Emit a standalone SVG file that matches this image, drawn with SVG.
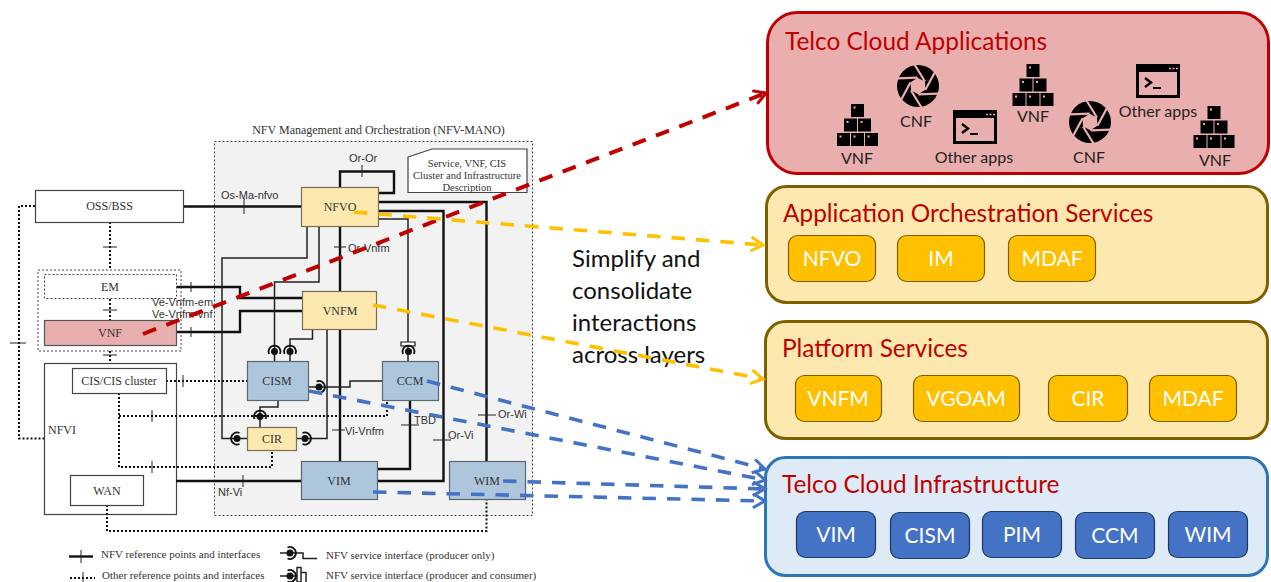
<svg xmlns="http://www.w3.org/2000/svg" width="1271" height="582" viewBox="0 0 1271 582">
<style>
.s{font-family:"Liberation Serif",serif;fill:#333;text-anchor:middle;font-size:12px}
.a{font-family:"Liberation Sans",sans-serif;font-size:11px;fill:#333}
.lg{font-family:"Liberation Serif",serif;fill:#333;font-size:11px}
.l{font-family:Lato,"Liberation Sans",sans-serif}
.yb{fill:#fde9b0;stroke:#7a7050;stroke-width:1.2}
.bb{fill:#aec6dc;stroke:#5a6670;stroke-width:1.2}
.wb{fill:#fff;stroke:#444;stroke-width:1.2}
.th{fill:none;stroke:#111;stroke-width:2.4}
.tn{fill:none;stroke:#222;stroke-width:1.5}
.do{fill:none;stroke:#111;stroke-width:2;stroke-dasharray:2 2}
.ti{fill:none;stroke:#222;stroke-width:1}
.pan{stroke-width:3}
.t1{font-size:24.4px;fill:#c00000}
.ib{stroke-width:1.2}
.it{font-size:21px;text-anchor:middle}
.sm{font-size:16px;fill:#222;text-anchor:middle}
.rd{fill:none;stroke:#c00000;stroke-width:4;stroke-dasharray:14 11}
.ye{fill:none;stroke:#ffc000;stroke-width:3.6;stroke-dasharray:13.500 11}
.bl{fill:none;stroke:#4472c4;stroke-width:3.6;stroke-dasharray:13.500 11}
</style>
<defs>
<marker id="mr" markerUnits="userSpaceOnUse" markerWidth="18" markerHeight="18" refX="14" refY="8" orient="auto"><path d="M2,1 L14,8 L2,15" fill="none" stroke="#c00000" stroke-width="3"/></marker>
<marker id="my" markerUnits="userSpaceOnUse" markerWidth="18" markerHeight="18" refX="14" refY="8" orient="auto"><path d="M2,1 L14,8 L2,15" fill="none" stroke="#ffc000" stroke-width="3"/></marker>
<marker id="mb" markerUnits="userSpaceOnUse" markerWidth="18" markerHeight="18" refX="14" refY="8" orient="auto"><path d="M2,1 L14,8 L2,15" fill="none" stroke="#4472c4" stroke-width="3"/></marker>
<g id="sock"><circle r="3.500" fill="#111"/><path d="M-5.500,2.500 A6,6 0 1 1 5.500,2.500" fill="none" stroke="#111" stroke-width="1.800"/></g>
<g id="vnfi"><g fill="#000">
<rect x="-6.500" y="0" width="13" height="13"/><rect x="-13.500" y="14.500" width="13" height="13"/><rect x="0.500" y="14.500" width="13" height="13"/><rect x="-20.500" y="29" width="13" height="13"/><rect x="-6.500" y="29" width="13" height="13"/><rect x="7.500" y="29" width="13" height="13"/></g>
<g fill="#e9aeae"><rect x="-4" y="2.500" width="2" height="2"/><rect x="-11" y="17" width="2" height="2"/><rect x="3" y="17" width="2" height="2"/><rect x="-18" y="31.500" width="2" height="2"/><rect x="-4" y="31.500" width="2" height="2"/><rect x="10" y="31.500" width="2" height="2"/></g></g>
<g id="ape"><circle r="21" fill="#000"/><g stroke="#e9aeae" stroke-width="2.200"><path id="gap" d="M7,-4.500L-3.500,-21.500"/><path d="M7,-4.500L-3.500,-21.500" transform="rotate(60)"/><path d="M7,-4.500L-3.500,-21.500" transform="rotate(120)"/><path d="M7,-4.500L-3.500,-21.500" transform="rotate(180)"/><path d="M7,-4.500L-3.500,-21.500" transform="rotate(240)"/><path d="M7,-4.500L-3.500,-21.500" transform="rotate(300)"/></g><path d="M7,-4.500L7.400,3.800L0.400,8.300L-7,4.500L-7.400,-3.800L-0.400,-8.300Z" fill="#e9aeae"/></g>
<g id="term"><rect x="1.500" y="1.500" width="41" height="31" fill="none" stroke="#000" stroke-width="3"/><rect x="1" y="1" width="42" height="7" fill="#000"/><path d="M9,14 L15,18.500 L9,23" fill="none" stroke="#000" stroke-width="2.400"/><path d="M17,24 H25" stroke="#000" stroke-width="2"/><path d="M33,4.500 h2 m1.500,0 h2 m1.500,0 h2" stroke="#e9aeae" stroke-width="1.500"/></g>
</defs>
<rect width="1271" height="582" fill="#fff"/>

<g id="mano"><rect x="214.500" y="141.500" width="318" height="374" fill="#f2f2f2" stroke="#444" stroke-width="1" stroke-dasharray="2 2"/>
<text class="s" x="378.500" y="133.500">NFV Management and Orchestration (NFV-MANO)</text></g>
<g id="vnf-group"><rect x="38" y="270" width="143" height="81" fill="#fff" stroke="#444" stroke-width="1" stroke-dasharray="2 2"/></g>
<g id="nfvi"><rect x="44.500" y="363.500" width="132" height="151" class="wb"/><text class="s" x="62" y="434">NFVI</text></g>

<g id="connectors">
<path class="th" d="M184,206.500H301M340,226V461M340,187V171.500H394V193H378M378,202H486.500V461M378,211H443.500V481H377M176,287H240V298H302M176,332H240V311H302M410,400V469H377M176,481H301"/>
<path class="tn" d="M378,219H408V342M307,226V258H222V438.500H247M319,226V282H274.500V361M312.500,329V339H290V361M327,329V438.500H296M308,387H350V381H382M278,400V407H260V427"/>
<path class="do" d="M35,206H19V438.500H44M110,222V270M110,299V320M110,351V363M166,381H247M119,393V467H272V450M119,416H387V400M107,505V531H486.500V499"/>
<path class="ti" d="M103,247H117M103,310H117M103,355H117M10,343H26M244,198V214M191,282V292M191,327V337M362,165V177M334,247H346M183,375V387M152,410V422M152,461V473M243,475V487M332,430H345M401,425H419M433,440H451M478,415H496"/>
<path d="M401,342H415V346H401Z" fill="#fff" stroke="#111" stroke-width="1.200"/>
<path class="tn" d="M408,346V361"/>
<use href="#sock" x="274.500" y="351.500"/><use href="#sock" x="290" y="351.500"/><use href="#sock" x="408.500" y="351.500"/><use href="#sock" x="260" y="416.500"/>
<use href="#sock" transform="translate(237 438.500) rotate(-90)"/><use href="#sock" transform="translate(305 438.500) rotate(90)"/><use href="#sock" transform="translate(319 387) rotate(90)"/>
</g>

<g id="oss"><rect x="35.500" y="190.500" width="148" height="32" class="wb"/><text class="s" x="109.500" y="210">OSS/BSS</text></g>
<g id="em"><rect x="44.500" y="274.500" width="132" height="24" fill="#fff" stroke="#444" stroke-width="1" stroke-dasharray="2 2"/><text class="s" x="110" y="291">EM</text></g>
<g id="vnf"><rect x="44.500" y="320.500" width="132" height="25" fill="#e9aeae" stroke="#555" stroke-width="1.200"/><text class="s" x="110" y="337">VNF</text></g>
<g id="cis"><rect x="72.500" y="368.500" width="94" height="25" class="wb"/><text class="s" x="119" y="385">CIS/CIS  cluster</text></g>
<g id="wan"><rect x="70.500" y="475.500" width="73" height="30" class="wb"/><text class="s" x="107" y="495">WAN</text></g>
<g id="nfvo"><rect x="301.500" y="187.500" width="77" height="39" class="yb"/><text class="s" x="340" y="211">NFVO</text></g>
<g id="vnfm"><rect x="302.500" y="291.500" width="74" height="38" class="yb"/><text class="s" x="340" y="315">VNFM</text></g>
<g id="cism"><rect x="247.500" y="361.500" width="61" height="39" class="bb"/><text class="s" x="277" y="385">CISM</text></g>
<g id="ccm"><rect x="382.500" y="361.500" width="56" height="39" class="bb"/><text class="s" x="410" y="385">CCM</text></g>
<g id="cir"><rect x="247.500" y="427.500" width="49" height="23" class="yb"/><text class="s" x="272" y="443">CIR</text></g>
<g id="vim"><rect x="301.500" y="461.500" width="76" height="38" class="bb"/><text class="s" x="339" y="485">VIM</text></g>
<g id="wim"><rect x="449.500" y="461.500" width="76" height="38" class="bb"/><text class="s" x="487" y="485">WIM</text></g>
<g id="desc"><path d="M408,157 L432,149 H527 V192.500 H408Z" fill="#fff" stroke="#444" stroke-width="1.200"/><text class="s" style="font-size:10.500px" x="467" y="167">Service, VNF, CIS</text><text class="s" style="font-size:10.500px" x="467" y="179">Cluster and Infrastructure</text><text class="s" style="font-size:10.500px" x="467" y="191">Description</text></g>

<g id="labels">
<text class="a" x="221" y="199">Os-Ma-nfvo</text><text class="a" x="349" y="162">Or-Or</text><text class="a" x="348" y="252">Or-Vnfm</text>
<text class="a" x="152" y="306">Ve-Vnfm-em</text><text class="a" x="152" y="318">Ve-Vnfm-vnf</text>
<text class="a" x="345" y="435">Vi-Vnfm</text><text class="a" x="414" y="424">TBD</text><text class="a" x="448" y="439">Or-Vi</text><text class="a" x="498" y="418">Or-Wi</text><text class="a" x="218" y="496">Nf-Vi</text>
</g>

<g id="legend">
<path class="th" d="M69,556.500H93"/><path class="ti" d="M81,550V563"/>
<path class="do" d="M70,578H95"/><path class="ti" d="M83,572V582"/>
<text class="lg" x="101" y="558">NFV reference points and interfaces</text>
<text class="lg" x="102" y="579">Other reference points and interfaces</text>
<path class="tn" d="M280,553H303V558.500H317"/><use href="#sock" transform="translate(290 553) rotate(90)"/>
<path class="tn" d="M280,576H297M297,567.500H301V582H297ZM301,572.500H306V582"/><use href="#sock" transform="translate(290 576) rotate(90)"/>
<text class="lg" x="326" y="559">NFV service interface (producer only)</text>
<text class="lg" x="326" y="579">NFV service interface (producer and consumer)</text>
</g>

<g id="telco-apps">
<rect x="767.500" y="12.500" width="501" height="161" rx="30" fill="#e9aeae" stroke="#c00000" class="pan"/>
<text class="l t1" x="785" y="50">Telco Cloud Applications</text>
<use href="#vnfi" x="857.500" y="104"/><text class="l sm" x="857" y="164">VNF</text>
<use href="#vnfi" x="1033" y="64"/><text class="l sm" x="1033" y="122">VNF</text>
<use href="#vnfi" x="1214" y="106"/><text class="l sm" x="1215" y="166">VNF</text>
<use href="#ape" x="918" y="86"/><text class="l sm" x="916" y="127">CNF</text>
<use href="#ape" x="1090" y="122"/><text class="l sm" x="1089" y="163">CNF</text>
<use href="#term" x="953" y="110"/><text class="l sm" x="974" y="163">Other apps</text>
<use href="#term" x="1136" y="64"/><text class="l sm" x="1158" y="117">Other apps</text>
</g>

<g id="app-orch">
<rect x="766.500" y="186.500" width="501" height="116" rx="20" fill="#fde9b0" stroke="#7f6000" class="pan"/>
<text class="l t1" x="783" y="222">Application Orchestration Services</text>
<g id="ao-nfvo"><rect x="788.500" y="235.500" width="87" height="46" rx="9" fill="#ffc000" stroke="#7f6000" class="ib"/><text class="l it" x="832" y="266" fill="#fff">NFVO</text></g>
<g id="ao-im"><rect x="897.500" y="235.500" width="87" height="46" rx="9" fill="#ffc000" stroke="#7f6000" class="ib"/><text class="l it" x="941" y="266" fill="#fff">IM</text></g>
<g id="ao-mdaf"><rect x="1008.500" y="235.500" width="87" height="46" rx="9" fill="#ffc000" stroke="#7f6000" class="ib"/><text class="l it" x="1052" y="266" fill="#fff">MDAF</text></g>
</g>

<g id="platform">
<rect x="765.500" y="321.500" width="502" height="117" rx="20" fill="#fde9b0" stroke="#7f6000" class="pan"/>
<text class="l t1" x="782" y="357">Platform Services</text>
<g id="p-vnfm"><rect x="795.500" y="375.500" width="86" height="46" rx="9" fill="#ffc000" stroke="#7f6000" class="ib"/><text class="l it" x="838" y="406" fill="#fff">VNFM</text></g>
<g id="p-vgoam"><rect x="913.500" y="375.500" width="106" height="46" rx="9" fill="#ffc000" stroke="#7f6000" class="ib"/><text class="l it" x="966" y="406" fill="#fff">VGOAM</text></g>
<g id="p-cir"><rect x="1048.500" y="375.500" width="79" height="46" rx="9" fill="#ffc000" stroke="#7f6000" class="ib"/><text class="l it" x="1088" y="406" fill="#fff">CIR</text></g>
<g id="p-mdaf"><rect x="1149.500" y="375.500" width="87" height="46" rx="9" fill="#ffc000" stroke="#7f6000" class="ib"/><text class="l it" x="1193" y="406" fill="#fff">MDAF</text></g>
</g>

<g id="infra">
<rect x="765.500" y="457.500" width="502" height="118" rx="20" fill="#deebf7" stroke="#2e75b6" class="pan"/>
<text class="l t1" x="782" y="493">Telco Cloud Infrastructure</text>
<g id="i-vim"><rect x="796.500" y="511.500" width="79" height="46" rx="9" fill="#4472c4" stroke="#203864" class="ib"/><text class="l it" x="836" y="542" fill="#fff">VIM</text></g>
<g id="i-cism"><rect x="890.500" y="512.500" width="79" height="46" rx="9" fill="#4472c4" stroke="#203864" class="ib"/><text class="l it" x="930" y="543" fill="#fff">CISM</text></g>
<g id="i-pim"><rect x="982.500" y="511.500" width="79" height="46" rx="9" fill="#4472c4" stroke="#203864" class="ib"/><text class="l it" x="1022" y="542" fill="#fff">PIM</text></g>
<g id="i-ccm"><rect x="1075.500" y="512.500" width="79" height="46" rx="9" fill="#4472c4" stroke="#203864" class="ib"/><text class="l it" x="1115" y="543" fill="#fff">CCM</text></g>
<g id="i-wim"><rect x="1168.500" y="511.500" width="79" height="46" rx="9" fill="#4472c4" stroke="#203864" class="ib"/><text class="l it" x="1208" y="542" fill="#fff">WIM</text></g>
</g>

<g id="note"><text class="l" font-size="24" fill="#111"><tspan x="572" y="267">Simplify and</tspan><tspan x="572" y="299">consolidate</tspan><tspan x="572" y="331">interactions</tspan><tspan x="572" y="363">across layers</tspan></text></g>

<g id="arrows">
<path class="rd" d="M143,334L766,93" marker-end="url(#mr)"/>
<path class="ye" d="M354,212L763,245" marker-end="url(#my)"/>
<path class="ye" d="M373,305L763,379" marker-end="url(#my)"/>
<path class="bl" d="M427,381L765,469" marker-end="url(#mb)"/>
<path class="bl" d="M309,391L765,480" marker-end="url(#mb)"/>
<path class="bl" d="M503,481L765,489" marker-end="url(#mb)"/>
<path class="bl" d="M373,492L765,501" marker-end="url(#mb)"/>
</g>
</svg>
